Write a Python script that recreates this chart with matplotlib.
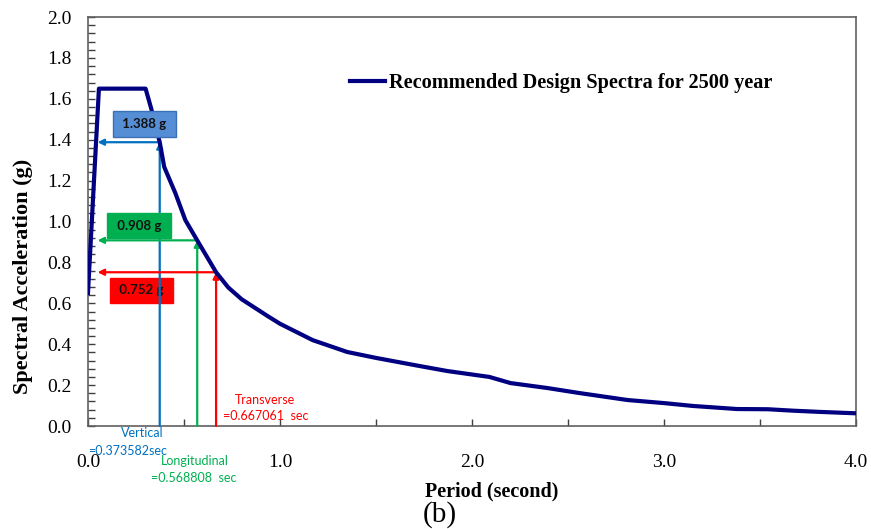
import numpy as np
import matplotlib
matplotlib.use("Agg")
import matplotlib.pyplot as plt
from matplotlib.ticker import MultipleLocator

# design spectrum
period = [0.0, 0.057, 0.30, 0.33, 0.3736, 0.397, 0.455, 0.507, 0.5688, 0.6671,
          0.73, 0.80, 0.94, 1.0, 1.17, 1.35, 1.50, 1.70, 1.87, 2.09, 2.20, 2.39,
          2.56, 2.81, 3.0, 3.15, 3.38, 3.54, 3.67, 3.81, 4.0]
sa = [0.65, 1.65, 1.65, 1.55, 1.388, 1.267, 1.139, 1.007, 0.908, 0.752,
      0.678, 0.62, 0.535, 0.50, 0.42, 0.362, 0.333, 0.298, 0.269, 0.24, 0.21,
      0.186, 0.161, 0.127, 0.112, 0.098, 0.083, 0.082, 0.075, 0.069, 0.062]

# structure periods and matching accelerations
dir_names = ["Vertical", "Longitudinal", "Transverse"]
dir_T = [0.373582, 0.568808, 0.667061]
dir_sa = [1.388, 0.908, 0.752]
dir_colors = ["#0070C0", "#00B050", "#FF0000"]
box_colors = ["#558ED5", "#00B050", "#FF0000"]
box_edges = ["#3A70B8", "#00B050", "#FF0000"]
per_labels = ["=0.373582sec", "=0.568808  sec", "=0.667061  sec"]

serif = "Liberation Serif"
sans = "Lato"

fig = plt.figure(figsize=(8.71, 5.29), dpi=100)
ax = fig.add_axes([0.101, 0.1947, 0.882, 0.773])

ax.plot(period, sa, color="#000080", lw=3, solid_joinstyle="round",
        label="Recommended Design Spectra for 2500 year", zorder=5)

# arrows to the curve and to the axis
x_left = 0.05
box_pos = [(0.294, 1.477), (0.266, 0.980), (0.279, 0.663)]
box_z = [6, 6, 3]
for i in range(3):
    c = dir_colors[i]
    ax.annotate("", xy=(dir_T[i], dir_sa[i]), xytext=(dir_T[i], 0.0),
                arrowprops=dict(arrowstyle="-|>", color=c, lw=1.6,
                                mutation_scale=9, shrinkA=0, shrinkB=0),
                zorder=4)
    ax.annotate("", xy=(x_left, dir_sa[i]), xytext=(dir_T[i], dir_sa[i]),
                arrowprops=dict(arrowstyle="-|>", color=c, lw=1.6,
                                mutation_scale=9, shrinkA=0, shrinkB=0),
                zorder=4)
    bx, by = box_pos[i]
    ax.text(bx, by, " %.3f g " % dir_sa[i], ha="center", va="center",
            fontsize=9.5, fontweight="bold", family=sans, color="#111111",
            bbox=dict(boxstyle="square,pad=0.5", fc=box_colors[i],
                      ec=box_edges[i], lw=1), zorder=box_z[i])

# period labels under the lines
name_pos = [(0.281, -0.034), (0.557, -0.171), (0.922, 0.127)]
val_pos = [(0.208, -0.122), (0.552, -0.254), (0.927, 0.049)]
for i in range(3):
    ax.text(name_pos[i][0], name_pos[i][1], dir_names[i], ha="center",
            va="center", fontsize=9, family=sans, color=dir_colors[i],
            clip_on=False, zorder=7)
    ax.text(val_pos[i][0], val_pos[i][1], per_labels[i], ha="center",
            va="center", fontsize=9, family=sans, color=dir_colors[i],
            clip_on=False, zorder=7)

ax.set_xlim(0, 4.0)
ax.set_ylim(0, 2.0)
ax.xaxis.set_major_locator(MultipleLocator(1.0))
ax.xaxis.set_minor_locator(MultipleLocator(0.5))
ax.yaxis.set_major_locator(MultipleLocator(0.2))
ax.yaxis.set_minor_locator(MultipleLocator(0.04))
ax.xaxis.set_major_formatter(matplotlib.ticker.FormatStrFormatter("%.1f"))
ax.yaxis.set_major_formatter(matplotlib.ticker.FormatStrFormatter("%.1f"))
ax.tick_params(which="both", direction="in", length=5, width=1,
               color="#404040", top=False, right=False)
ax.tick_params(axis="x", which="major", pad=20)
ax.tick_params(axis="y", which="major", pad=12)
for lab in ax.get_xticklabels() + ax.get_yticklabels():
    lab.set_family(serif)
    lab.set_fontsize(14)
for s in ax.spines.values():
    s.set_color("#606060")
    s.set_linewidth(1.2)

ax.set_xlabel("Period (second)", family=serif, fontsize=14.5,
              fontweight="bold", labelpad=2)
ax.xaxis.set_label_coords(0.526, -0.135)
ax.set_ylabel("Spectral Acceleration (g)", family=serif, fontsize=16,
              fontweight="bold")
ax.yaxis.set_label_coords(-0.071, 0.367)

leg = ax.legend(loc="center left", bbox_to_anchor=(0.341, 0.839),
                frameon=False, handlelength=1.75, handletextpad=0.2,
                borderpad=0, borderaxespad=0,
                prop=dict(family=serif, size=14.6, weight="bold"))

fig.text(0.505, 0.028, "(b)", ha="center", va="center", family=serif,
         fontsize=21)

fig.savefig("out.png", dpi=100)
